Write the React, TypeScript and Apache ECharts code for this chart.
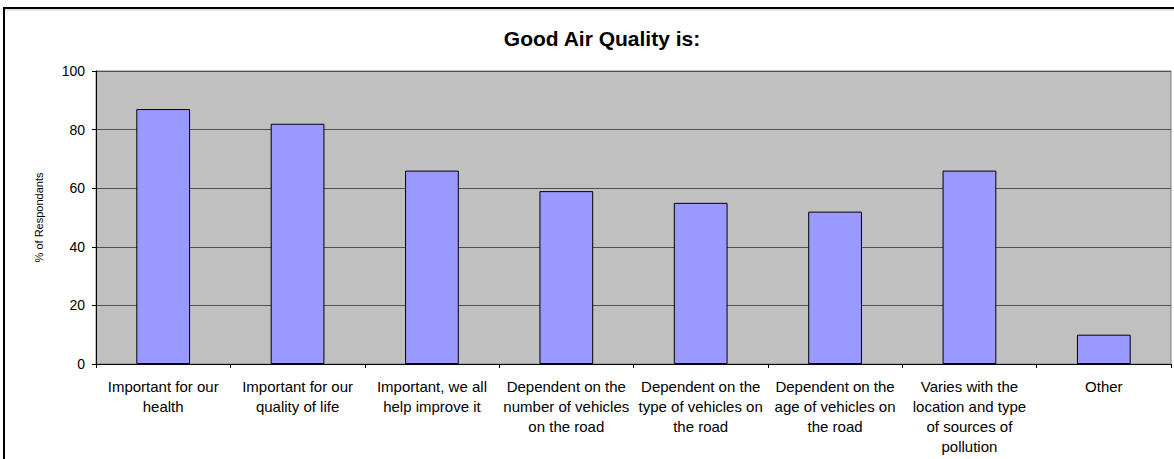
import React, { useEffect, useRef } from "react";
import * as echarts from "echarts";

const titleText = "Good Air Quality is:";
const yAxisName = "% of Respondants";
const categories = [
  "Important for our\nhealth",
  "Important for our\nquality of life",
  "Important, we all\nhelp improve it",
  "Dependent on the\nnumber of vehicles\non the road",
  "Dependent on the\ntype of vehicles on\nthe road",
  "Dependent on the\nage of vehicles on\nthe road",
  "Varies with the\nlocation and type\nof sources of\npollution",
  "Other",
];
const values = [87, 82, 66, 59, 55, 52, 66, 10];
const yMin = 0;
const yMax = 100;
const yInterval = 20;

const FONT = "'Liberation Sans', Arial, sans-serif";

export default function App() {
  const ref = useRef<HTMLDivElement>(null);
  useEffect(() => {
    if (!ref.current) return;
    const chart = echarts.init(ref.current, undefined, { renderer: "svg" });
    chart.setOption({
      animation: false,
      backgroundColor: "#ffffff",
      textStyle: { fontFamily: FONT },
      title: {
        text: titleText,
        left: 597,
        textAlign: "center",
        top: 23,
        textStyle: { fontFamily: FONT, fontSize: 21, fontWeight: "bold", color: "#000" },
      },
      graphic: [
        {
          type: "rect",
          shape: { x: 4, y: 8, width: 1180, height: 470 },
          style: { fill: "none", stroke: "#000", lineWidth: 2 },
          z: 100,
          silent: true,
        },
        {
          type: "line",
          shape: { x1: 5, y1: 10, x2: 1174, y2: 10 },
          style: { stroke: "#c8c8c8", lineWidth: 1 },
          z: 99,
          silent: true,
        },
      ],
      grid: {
        left: 96,
        top: 71,
        right: 3,
        bottom: 95,
        show: true,
        backgroundColor: "#C0C0C0",
        borderColor: "#808080",
        borderWidth: 1,
      },
      xAxis: {
        type: "category",
        data: categories,
        boundaryGap: true,
        axisLine: { show: true, lineStyle: { color: "#000", width: 1 } },
        axisTick: { show: true, length: 4, alignWithLabel: false, lineStyle: { color: "#000" } },
        axisLabel: {
          interval: 0,
          margin: 12,
          fontSize: 15,
          lineHeight: 20,
          color: "#000",
          fontFamily: FONT,
        },
        splitLine: { show: false },
      },
      yAxis: {
        type: "value",
        min: yMin,
        max: yMax,
        interval: yInterval,
        name: yAxisName,
        nameLocation: "middle",
        nameRotate: 90,
        nameGap: 52,
        nameTextStyle: { fontSize: 11, color: "#000", fontFamily: FONT },
        axisLine: { show: true, lineStyle: { color: "#000", width: 1 } },
        axisTick: { show: true, length: 4, lineStyle: { color: "#000" } },
        axisLabel: { fontSize: 14, color: "#000", margin: 11, fontFamily: FONT },
        splitLine: { show: true, lineStyle: { color: "#505050", width: 1 } },
      },
      series: [
        {
          type: "bar",
          data: values,
          barWidth: "40%",
          itemStyle: { color: "#9999FF", borderColor: "#000", borderWidth: 1 },
        },
      ],
    });
    return () => chart.dispose();
  }, []);
  return (
    <div
      ref={ref}
      style={{ position: "fixed", left: 0, top: 0, width: 1174, height: 459 }}
    />
  );
}
